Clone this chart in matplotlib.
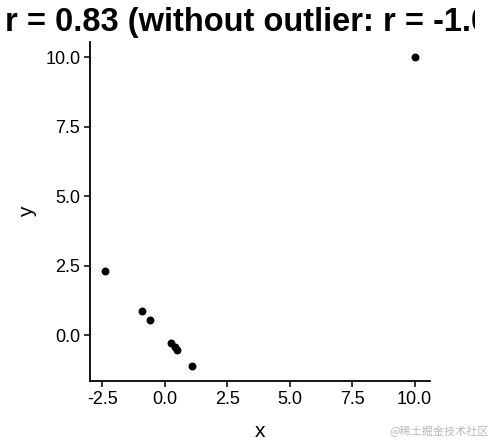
import matplotlib.pyplot as plt
from matplotlib.patches import Rectangle

# points
x = [-2.37, -0.92, -0.59, 0.25, 0.40, 0.48, 1.08, 10.0]
y = [2.31, 0.86, 0.53, -0.30, -0.42, -0.53, -1.10, 10.0]
xticks = [-2.5, 0.0, 2.5, 5.0, 7.5, 10.0]
yticks = [0.0, 2.5, 5.0, 7.5, 10.0]
titre = "r = 0.83 (without outlier: r = -1.00)"

plt.rcParams['font.family'] = ['Liberation Sans', 'DejaVu Sans']

fig = plt.figure(figsize=(5.02, 4.44), dpi=100)
ax = fig.add_axes([90 / 502, 1 - 381 / 444, 340 / 502, 339 / 444])

ax.scatter(x, y, s=22, color='black', zorder=3)

ax.set_xticks(xticks)
ax.set_yticks(yticks)
ax.set_xticklabels([f"{t:.1f}" for t in xticks])
ax.set_yticklabels([f"{t:.1f}" for t in yticks])
ax.set_xlim(-2.99, 10.62)
ax.set_ylim(-1.655, 10.555)

for cote in ['top', 'right']:
    ax.spines[cote].set_visible(False)
for cote in ['left', 'bottom']:
    ax.spines[cote].set_linewidth(1.3)

ax.tick_params(direction='out', length=4, width=1.1, labelsize=13,
               colors='black', pad=3)
ax.set_xlabel('x', fontsize=15, labelpad=10)
ax.set_ylabel('y', fontsize=15, labelpad=6)

# titre coupé comme sur l'image
t = fig.text(5 / 502, 1 - 22 / 444, titre, ha='left', va='center',
             fontsize=23.5, fontweight='bold')
clip = Rectangle((0, 0), 475 / 502, 1, transform=fig.transFigure,
                 facecolor='none', edgecolor='none')
fig.add_artist(clip)
t.set_clip_path(clip)

fig.text(489 / 502, 1 - 431 / 444, "@稀土掘金技术社区", ha='right', va='center',
         fontsize=8, color='#b8b8b8',
         family=['Noto Sans CJK SC', 'DejaVu Sans'])

fig.savefig('out.png', dpi=100)
